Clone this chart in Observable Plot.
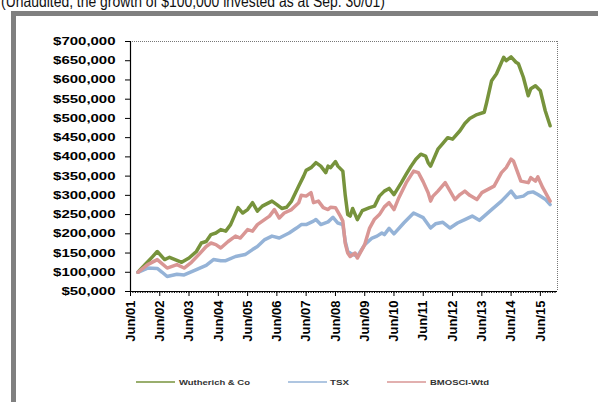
<!DOCTYPE html>
<html>
<head>
<meta charset="utf-8">
<script src="https://cdn.jsdelivr.net/npm/d3@7"></script>
<script src="https://cdn.jsdelivr.net/npm/@observablehq/plot@0.6"></script>
<style>
  body { margin: 0; background: #fff; }
  #wrap { position: relative; width: 598px; height: 402px; overflow: hidden; background: #fff; }
  #wrap > * { position: absolute; left: 0; top: 0; }
</style>
</head>
<body>
<div id="wrap"></div>
<script>
// ---- DATA ----
const titleText = "(Unaudited, the growth of $100,000 invested as at Sep. 30/01)";
const seriesNames = ["Wutherich & Co", "TSX", "BMOSCI-Wtd"];
const seriesColors = ["#77933C", "#95B3D7", "#D99694"];

const wutherichDates = ["2001-09","2001-12","2002-03","2002-05","2002-08","2002-10","2003-01","2003-03","2003-06","2003-09","2003-11","2004-01","2004-03","2004-05","2004-07","2004-09","2004-11","2005-02","2005-04","2005-06","2005-08","2005-10","2005-12","2006-04","2006-06","2006-08","2006-10","2006-12","2007-03","2007-05","2007-06","2007-08","2007-10","2007-12","2008-02","2008-03","2008-04","2008-06","2008-07","2008-09","2008-10","2008-11","2008-12","2009-01","2009-03","2009-05","2009-08","2009-10","2009-12","2010-02","2010-04","2010-06","2010-09","2010-11","2011-01","2011-03","2011-05","2011-07","2011-08","2011-09","2011-12","2012-02","2012-04","2012-06","2012-09","2012-11","2013-01","2013-04","2013-07","2013-08","2013-10","2013-12","2014-03","2014-04","2014-06","2014-08","2014-09","2014-11","2015-01","2015-02","2015-04","2015-06","2015-08","2015-10"];
const wutherichValues = [100,120,140,154,133,139,131,126,137,154,176,180,198,202,211,207,224,268,254,263,281,259,272,285,276,266,269,285,324,350,365,372,385,376,359,376,372,388,376,363,300,250,246,266,237,260,268,272,298,311,318,302,333,355,376,394,407,402,385,376,420,435,450,446,468,487,500,510,516,542,598,616,659,650,660,646,642,607,559,577,585,572,520,481];

const tsxDates = ["2001-09","2002-01","2002-05","2002-07","2002-09","2003-01","2003-04","2003-09","2004-01","2004-04","2004-07","2004-09","2005-01","2005-05","2005-08","2005-10","2006-01","2006-04","2006-07","2006-11","2007-02","2007-04","2007-06","2007-09","2007-10","2007-12","2008-03","2008-05","2008-07","2008-09","2008-10","2008-11","2008-12","2009-03","2009-06","2009-09","2009-11","2010-01","2010-02","2010-04","2010-06","2010-10","2011-02","2011-06","2011-09","2011-11","2012-02","2012-05","2012-08","2012-11","2013-02","2013-05","2013-10","2014-02","2014-06","2014-08","2014-11","2015-01","2015-03","2015-05","2015-08","2015-10"];
const tsxValues = [100,111,110,100,89,95,93,107,118,133,130,130,141,146,159,167,185,194,189,202,215,224,224,233,237,224,231,243,228,224,180,154,150,141,172,189,194,202,198,214,200,228,254,242,215,226,230,215,228,237,246,235,263,285,311,294,298,307,309,302,290,276];

const bmoDates = ["2001-09","2002-01","2002-05","2002-09","2003-01","2003-04","2003-07","2003-10","2004-01","2004-03","2004-05","2004-07","2004-10","2005-01","2005-03","2005-06","2005-08","2005-10","2006-03","2006-05","2006-07","2006-09","2006-12","2007-03","2007-04","2007-06","2007-08","2007-09","2007-11","2008-01","2008-03","2008-04","2008-06","2008-08","2008-09","2008-10","2008-11","2008-12","2009-02","2009-03","2009-06","2009-08","2009-10","2009-12","2010-02","2010-04","2010-06","2010-08","2010-11","2011-02","2011-04","2011-06","2011-08","2011-09","2011-10","2011-12","2012-03","2012-05","2012-07","2012-09","2012-11","2013-01","2013-04","2013-06","2013-11","2014-02","2014-04","2014-06","2014-07","2014-10","2015-01","2015-02","2015-04","2015-05","2015-07","2015-10"];
const bmoValues = [100,120,133,111,120,111,126,146,167,176,172,163,180,194,189,211,207,224,246,263,241,254,263,281,300,298,307,281,285,268,263,269,268,246,233,175,150,141,150,137,172,215,238,250,270,281,263,294,333,363,359,335,307,285,298,311,333,311,289,302,311,300,289,307,324,359,372,394,389,337,333,346,337,348,320,285];

const yTickValues = [50000,100000,150000,200000,250000,300000,350000,400000,450000,500000,550000,600000,650000,700000];
const xTickYears = [2001,2002,2003,2004,2005,2006,2007,2008,2009,2010,2011,2012,2013,2014,2015];

// ---- build table ----
const parse = d3.timeParse("%Y-%m");
const rows = [];
[[wutherichDates, wutherichValues, seriesNames[0]],
 [tsxDates, tsxValues, seriesNames[1]],
 [bmoDates, bmoValues, seriesNames[2]]].forEach(([ds, vs, name]) => {
  ds.forEach((d, i) => rows.push({date: parse(d), value: vs[i] * 1000, series: name}));
});

const xStart = new Date(2001, 5, 1);
const xEnd = new Date(2016, 0, 1);
const junTicks = xTickYears.map(y => new Date(y, 5, 1));
const monthTicks = d3.timeMonth.range(xStart, xEnd);
const money = d3.format("$,");

const chart = Plot.plot({
  width: 598,
  height: 402,
  marginLeft: 130,
  marginRight: 41,
  marginTop: 41,
  marginBottom: 111,
  style: {fontFamily: "'Liberation Sans', Arial, sans-serif", fontSize: "11px", fontWeight: "bold", color: "#000", background: "transparent"},
  x: {type: "time", domain: [xStart, xEnd]},
  y: {domain: [50000, 700000]},
  color: {domain: seriesNames, range: seriesColors},
  marks: [
    Plot.ruleY([700000], {stroke: "#777", strokeDasharray: "1,1"}),
    Plot.ruleX([xEnd], {stroke: "#777", strokeDasharray: "1,1"}),
    Plot.axisY({ticks: yTickValues, tickFormat: money, tickSize: 5, tickPadding: 10, label: null, stroke: "#000"}),
    Plot.axisX({ticks: monthTicks, tickSize: 2, tickFormat: () => "", label: null, stroke: "#000"}),
    Plot.axisX({ticks: junTicks, tickSize: 5, tickPadding: 4, tickRotate: -90, label: null,
      tickFormat: d => "Jun/" + String(d.getFullYear() % 100).padStart(2, "0"), fontSize: 13}),
    Plot.ruleX([xStart], {stroke: "#000", strokeWidth: 1.2}),
    Plot.ruleY([50000], {stroke: "#000", strokeWidth: 1.2}),
    Plot.line(rows.filter(d => d.series === seriesNames[0]), {x: "date", y: "value", stroke: "series", strokeWidth: 3.5, strokeLinejoin: "round"}),
    Plot.line(rows.filter(d => d.series === seriesNames[1]), {x: "date", y: "value", stroke: "series", strokeWidth: 3.5, strokeLinejoin: "round"}),
    Plot.line(rows.filter(d => d.series === seriesNames[2]), {x: "date", y: "value", stroke: "series", strokeWidth: 3.5, strokeLinejoin: "round"})
  ]
});

// widen y tick labels horizontally like the reference
d3.select(chart).selectAll('g[aria-label="y-axis tick label"] text').each(function() {
  const t = this.getAttribute("transform") || "";
  this.setAttribute("transform", t + " scale(1.36,1)");
});

const wrap = document.getElementById("wrap");

// gray frame
const frame = document.createElement("div");
frame.style.cssText = "left:11px;top:11px;width:620px;height:420px;border:5px solid #808080;box-sizing:border-box;";
wrap.appendChild(frame);
wrap.appendChild(chart);

// title + legend overlay
const ov = d3.create("svg").attr("width", 598).attr("height", 402)
  .style("font-family", "'Liberation Sans', Arial, sans-serif");
ov.append("text").attr("x", 1).attr("y", 6.5).attr("font-size", 16).attr("fill", "#111")
  .attr("textLength", 384).attr("lengthAdjust", "spacingAndGlyphs").text(titleText);

const legendItems = [
  {x1: 136, x2: 175, tx: 179, tw: 71},
  {x1: 288, x2: 327, tx: 330, tw: 19},
  {x1: 387, x2: 426, tx: 430, tw: 59}
];
seriesNames.forEach((name, i) => {
  const it = legendItems[i];
  ov.append("line").attr("x1", it.x1).attr("x2", it.x2).attr("y1", 382).attr("y2", 382)
    .attr("stroke", seriesColors[i]).attr("stroke-width", 1.6);
  ov.append("text").attr("x", it.tx).attr("y", 384.5).attr("font-size", 7.5).attr("font-weight", "bold")
    .attr("fill", "#333").attr("textLength", it.tw).attr("lengthAdjust", "spacingAndGlyphs").text(name);
});
wrap.appendChild(ov.node());
</script>
</body>
</html>
